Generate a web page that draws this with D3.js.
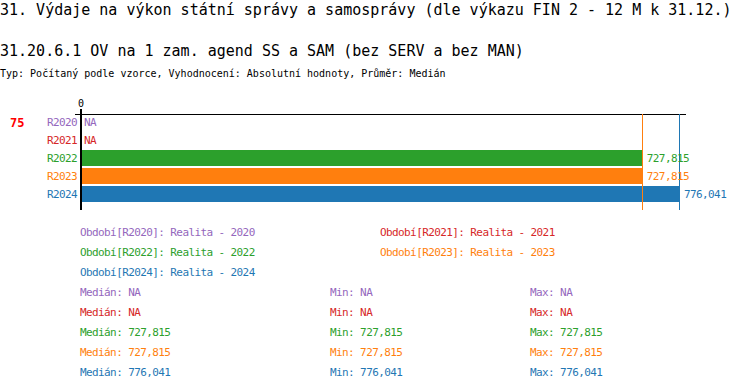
<!DOCTYPE html>
<html>
<head>
<meta charset="utf-8">
<script src="https://cdn.jsdelivr.net/npm/d3@7"></script>
<style>
  body { margin: 0; background: #fff; }
  svg text { font-family: "DejaVu Sans Mono", monospace; }
</style>
</head>
<body>
<svg id="chart" width="750" height="390"></svg>
<script>
var periods = ["R2020", "R2021", "R2022", "R2023", "R2024"];
var values = [null, null, 727815, 727815, 776041];
var colors = ["#9467bd", "#d62728", "#2ca02c", "#ff7f0e", "#1f77b4"];
var legendNames = ["Realita - 2020", "Realita - 2021", "Realita - 2022", "Realita - 2023", "Realita - 2024"];
var medians = [null, null, 727815, 727815, 776041];
var mins = [null, null, 727815, 727815, 776041];
var maxs = [null, null, 727815, 727815, 776041];
var refLines = [727815, 776041];
var refColors = ["#ff7f0e", "#1f77b4"];

(function chart() {
    var svg = d3.select("#chart");
    var fmt = function (v) { return v == null ? "NA" : d3.format(",")(v); };

    svg.append("text")
        .attr("x", 0).attr("y", 15)
        .style("font-size", "15px")
        .text("31. Výdaje na výkon státní správy a samosprávy (dle výkazu FIN 2 - 12 M k 31.12.)");

    svg.append("text")
        .attr("x", 0).attr("y", 56)
        .style("font-size", "15px")
        .text("31.20.6.1 OV na 1 zam. agend SS a SAM (bez SERV a bez MAN)");

    svg.append("text")
        .attr("x", 0).attr("y", 77)
        .style("font-size", "10px")
        .text("Typ: Počítaný podle vzorce, Vyhodnocení: Absolutní hodnoty, Průměr: Medián");

    var x = d3.scaleLinear().domain([0, 776041]).range([82, 680]);
    var y = d3.scaleBand().domain(periods).range([114, 204]).padding(0);

    svg.append("text")
        .attr("x", 10).attr("y", 127)
        .attr("fill", "#ff0000")
        .attr("font-weight", "bold")
        .style("font-size", "12px")
        .text("75");

    // top line and 0 label
    svg.append("line")
        .attr("x1", 75).attr("x2", 686)
        .attr("y1", 114.5).attr("y2", 114.5)
        .attr("stroke", "#000");

    svg.append("text")
        .attr("x", x(0) - 1).attr("y", 107)
        .attr("text-anchor", "middle")
        .style("font-size", "10px")
        .text("0");

    var rows = periods.map(function (p, i) {
        return { p: p, v: values[i], c: colors[i] };
    });

    svg.selectAll(".bar")
        .data(rows.filter(function (d) { return d.v != null; }))
        .enter().append("rect")
        .attr("class", "bar")
        .attr("x", x(0))
        .attr("y", function (d) { return y(d.p); })
        .attr("width", function (d) { return x(d.v) - x(0); })
        .attr("height", y.bandwidth() - 2)
        .attr("fill", function (d) { return d.c; });

    // reference lines
    refLines.forEach(function (v, i) {
        svg.append("line")
            .attr("x1", Math.round(x(v)) - 0.5).attr("x2", Math.round(x(v)) - 0.5)
            .attr("y1", 114).attr("y2", 210)
            .attr("stroke", refColors[i]);
    });

    // axis line
    svg.append("line")
        .attr("x1", 81).attr("x2", 81)
        .attr("y1", 109).attr("y2", 210)
        .attr("stroke", "#000")
        .attr("stroke-width", 2);

    svg.selectAll(".cat")
        .data(rows)
        .enter().append("text")
        .attr("class", "cat")
        .attr("x", 77)
        .attr("y", function (d) { return y(d.p) + y.bandwidth() / 2 - 1; })
        .attr("dy", "0.35em")
        .attr("text-anchor", "end")
        .attr("fill", function (d) { return d.c; })
        .style("font-size", "11px")
        .style("letter-spacing", "-0.6px")
        .text(function (d) { return d.p; });

    svg.selectAll(".val")
        .data(rows)
        .enter().append("text")
        .attr("class", "val")
        .attr("x", function (d) { return d.v == null ? 84 : x(d.v) + 4; })
        .attr("y", function (d) { return y(d.p) + y.bandwidth() / 2 - 1; })
        .attr("dy", "0.35em")
        .attr("fill", function (d) { return d.c; })
        .style("font-size", "11px")
        .style("letter-spacing", "-0.6px")
        .text(function (d) { return fmt(d.v); });

    // legend
    var legPos = [[80, 232], [380, 232], [80, 252], [380, 252], [80, 272]];
    periods.forEach(function (p, i) {
        svg.append("text")
            .attr("x", legPos[i][0]).attr("y", legPos[i][1])
            .attr("dy", "0.35em")
            .attr("fill", colors[i])
            .style("font-size", "11px")
            .style("letter-spacing", "-0.6px")
            .text("Období[" + p + "]: " + legendNames[i]);
    });

    // stats
    periods.forEach(function (p, i) {
        var yy = 292 + i * 20;
        [[80, "Medián: ", medians[i]], [330, "Min: ", mins[i]], [530, "Max: ", maxs[i]]].forEach(function (s) {
            svg.append("text")
                .attr("x", s[0]).attr("y", yy)
                .attr("dy", "0.35em")
                .attr("fill", colors[i])
                .style("font-size", "11px")
                .style("letter-spacing", "-0.6px")
                .text(s[1] + fmt(s[2]));
        });
    });
}());
</script>
</body>
</html>
